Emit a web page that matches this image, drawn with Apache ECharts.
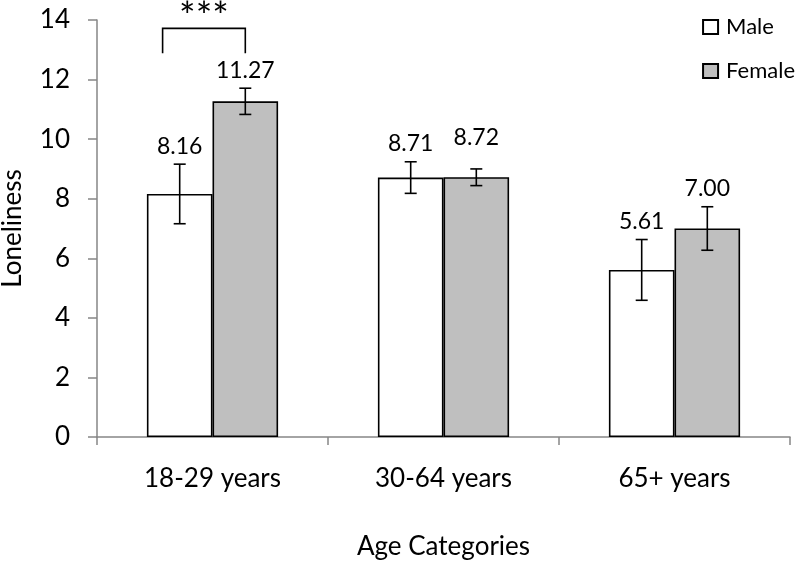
<!DOCTYPE html>
<html><head><meta charset="utf-8">
<script src="https://cdn.jsdelivr.net/npm/echarts@6/dist/echarts.min.js"></script>
<style>html,body{margin:0;padding:0;background:#fff}#c{width:800px;height:561px}</style>
</head><body><div id="c"></div>
<script>
const categories = ['18-29 years', '30-64 years', '65+ years'];
const maleValues = [8.16, 8.71, 5.61];
const femaleValues = [11.27, 8.72, 7.00];
const maleErrors = [1.0, 0.53, 1.02];
const femaleErrors = [0.44, 0.28, 0.73];
const yTicks = [0, 2, 4, 6, 8, 10, 12, 14];
const sigCategory = 0;
const sigBracket = [13.72, 12.88];
const sigLabel = '***';

const FONT = 'Lato';
const BAR_FRAC = 0.284;
const labelLift = { 'Female-1': 31 };

const chart = echarts.init(document.getElementById('c'));

function errSeries(name, vals, errs, side) {
  return {
    type: 'custom', name: name + '-err', clip: false, z: 5,
    silent: true,
    data: vals.map((v, i) => [i, v, errs[i]]),
    renderItem: function (params, api) {
      const i = api.value(0), v = api.value(1), e = api.value(2);
      const band = api.size([1, 0])[0];
      const off = side * band * BAR_FRAC / 2;
      const top = api.coord([i, v + e]);
      const bot = api.coord([i, v - e]);
      const x = top[0] + off;
      const cap = 6;
      const st = { stroke: '#000', lineWidth: 1.6 };
      const lift = labelLift[name + '-' + i] || 18;
      return {
        type: 'group', children: [
          { type: 'line', shape: { x1: x, y1: top[1], x2: x, y2: bot[1] }, style: st },
          { type: 'line', shape: { x1: x - cap, y1: top[1], x2: x + cap, y2: top[1] }, style: st },
          { type: 'line', shape: { x1: x - cap, y1: bot[1], x2: x + cap, y2: bot[1] }, style: st },
          { type: 'text', style: { x: x, y: top[1] - lift, text: v.toFixed(2), fill: '#000',
              font: '23px ' + FONT, align: 'center', verticalAlign: 'middle' } }
        ]
      };
    }
  };
}

const option = {
  animation: false,
  textStyle: { fontFamily: FONT },
  grid: { left: 97, right: 10, top: 20, bottom: 124, outerBoundsMode: 'none', containLabel: false },
  legend: {
    orient: 'vertical', right: 0, top: 11, itemGap: 22,
    itemWidth: 15, itemHeight: 14, icon: 'rect',
    textStyle: { fontSize: 22, color: '#000', fontFamily: FONT, padding: [0, 0, 0, 3] },
    data: ['Male', 'Female']
  },
  xAxis: {
    type: 'category', data: categories,
    name: 'Age Categories', nameLocation: 'middle', nameGap: 97,
    nameTextStyle: { fontSize: 26, color: '#000', fontFamily: FONT },
    axisLine: { lineStyle: { color: '#868686', width: 1.5 } },
    axisTick: { show: true, length: 8, lineStyle: { color: '#868686', width: 1.5 } },
    axisLabel: { fontSize: 26, color: '#000', margin: 29, fontFamily: FONT }
  },
  yAxis: {
    type: 'value', min: 0, max: 14, interval: 2,
    name: 'Loneliness', nameLocation: 'middle', nameGap: 71,
    nameTextStyle: { fontSize: 26, color: '#000', fontFamily: FONT },
    axisLine: { show: true, lineStyle: { color: '#868686', width: 1.5 } },
    axisTick: { show: true, length: 9, lineStyle: { color: '#868686', width: 1.5 } },
    splitLine: { show: false },
    axisLabel: { fontSize: 26, color: '#000', margin: 27, fontFamily: FONT,
      formatter: v => yTicks.includes(v) ? String(v) : '' }
  },
  series: [
    { name: 'Male', type: 'bar', data: maleValues, barWidth: (BAR_FRAC * 100) + '%', barGap: '0%',
      itemStyle: { color: '#ffffff', borderColor: '#000', borderWidth: 1.6 } },
    { name: 'Female', type: 'bar', data: femaleValues, barWidth: (BAR_FRAC * 100) + '%', barGap: '0%',
      itemStyle: { color: '#bfbfbf', borderColor: '#000', borderWidth: 1.6 } },
    errSeries('Male', maleValues, maleErrors, -1),
    errSeries('Female', femaleValues, femaleErrors, 1),
    {
      type: 'custom', clip: false, silent: true, z: 6,
      data: [[sigCategory, sigBracket[0], sigBracket[1]]],
      renderItem: function (params, api) {
        const i = api.value(0);
        const band = api.size([1, 0])[0];
        const c = api.coord([i, api.value(1)]);
        const b = api.coord([i, api.value(2)]);
        const xl = c[0] - band * 0.216;
        const xr = c[0] + band * BAR_FRAC / 2;
        return {
          type: 'group', children: [
            { type: 'polyline', shape: { points: [[xl, b[1]], [xl, c[1]], [xr, c[1]], [xr, b[1]]] },
              style: { stroke: '#000', lineWidth: 1.6, fill: null } },
            { type: 'text', style: { x: (xl + xr) / 2, y: c[1] - 11, text: sigLabel, fill: '#000',
                font: '39px ' + FONT, align: 'center', verticalAlign: 'middle' } }
          ]
        };
      }
    }
  ]
};
chart.setOption(option);
</script>
</body></html>
